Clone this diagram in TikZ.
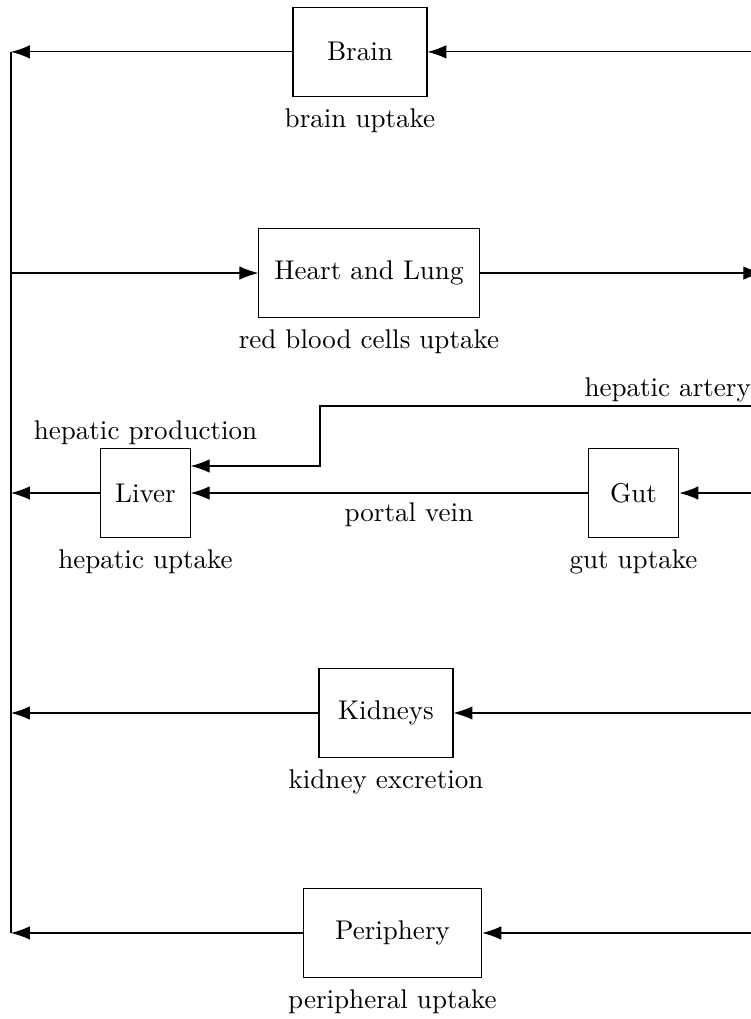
\documentclass[tikz,border=0pt]{standalone}
\usepackage{tikz}
\usetikzlibrary{arrows.meta}
\begin{document}
\begin{tikzpicture}
    [scale=1,auto=left,>={Latex[length=7pt,width=5pt]},
     organ/.style={draw,rectangle,minimum height=1.15cm},
     up/.style={label distance=-2.2pt},
     down/.style={label distance=1pt}]
    \useasboundingbox (0,0) rectangle (9.753,13.234);

    \node[organ,minimum width=1.74cm,label={[down]below:brain uptake}] (brain) at (4.675,12.56) {Brain};
    \node[organ,minimum width=2.86cm,label={[down]below:red blood cells uptake}] (heart) at (4.792,9.688) {Heart and Lung};
    \node[organ,minimum width=1.16cm,label={[up]above:hepatic production},label={[down]below:hepatic uptake}] (liver) at (1.89,6.831) {Liver};
    \node[organ,minimum width=1.18cm,label={[down]below:gut uptake}] (gut) at (8.227,6.831) {Gut};
    \node[organ,minimum width=1.74cm,label={[down]below:kidney excretion}] (kidneys) at (5.013,3.974) {Kidneys};
    \node[organ,minimum width=2.32cm,label={[down]below:peripheral uptake}] (periphery) at (5.097,1.117) {Periphery};

    % left side (venous)
    \coordinate (vbrain) at (0.143,12.56);
    \coordinate (vheart) at (0.143,9.688);
    \coordinate (vliver) at (0.143,6.831);
    \coordinate (vkidneys) at (0.143,3.974);
    \coordinate (vperiphery) at (0.143,1.117);
    % right side (arterial)
    \coordinate (abrain) at (9.80,12.56);
    \coordinate (aheart) at (9.90,9.688);
    \coordinate (ahepatic) at (9.80,7.961);
    \coordinate (bend) at (4.156,7.961);
    \coordinate (agut) at (9.80,6.831);
    \coordinate (akidneys) at (9.80,3.974);
    \coordinate (aperiphery) at (9.80,1.117);

    \draw (vbrain) -- (vperiphery);

    \draw[->] (abrain) -- (brain);
    \draw[->] (brain) -- (vbrain);
    \draw[->] (vheart) -- (heart);
    \draw[->] (heart) -- (aheart);
    \draw[->] (ahepatic) -- node[pos=0.2,above=-2.2pt] {hepatic artery} (bend) |- ([yshift=0.351cm]liver.east);
    \draw[->] (agut) -- (gut);
    \draw[->] (gut) -- node[pos=0.45,below] {portal vein} (liver);
    \draw[->] (liver) -- (vliver);
    \draw[->] (akidneys) -- (kidneys);
    \draw[->] (kidneys) -- (vkidneys);
    \draw[->] (aperiphery) -- (periphery);
    \draw[->] (periphery) -- (vperiphery);
\end{tikzpicture}
\end{document}
